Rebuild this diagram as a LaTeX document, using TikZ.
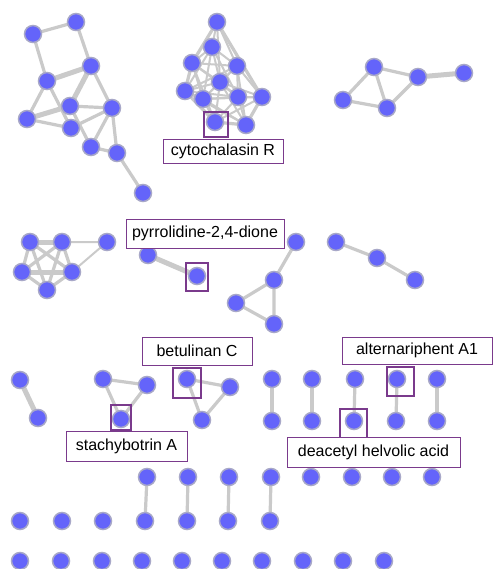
\documentclass[tikz,border=0pt]{standalone}
\usepackage{fontspec}
\setmainfont{Liberation Sans}
\definecolor{nodefill}{HTML}{6464FA}
\definecolor{noderim}{HTML}{A8A8C8}
\definecolor{edgegray}{HTML}{CACACA}
\definecolor{hlpurple}{HTML}{7A3A8C}
\tikzset{
  mol/.style={circle,fill=nodefill,draw=noderim,line width=1.5pt,minimum size=17pt,inner sep=0pt},
  link/.style={draw=edgegray,line width=3.2pt},
  thick link/.style={draw=edgegray,line width=5pt},
  thin link/.style={draw=edgegray,line width=2pt},
  hlbox/.style={draw=hlpurple,line width=1.8pt,fill=none},
  lbl/.style={draw=hlpurple,line width=0.9pt,fill=white,font=\fontsize{16}{18}\selectfont,inner xsep=3pt,inner ysep=4pt,anchor=center}
}
\begin{document}
\begin{tikzpicture}[x=1pt,y=-1pt]
\useasboundingbox (0,0) rectangle (493,569);
\fill[white] (0,0) rectangle (493,569);
% ---------- nodes ----------
\foreach \n/\x/\y in {A1/33/34,A2/76/22,A3/91/66,A4/47/81,A5/70/106,A6/112/108,A7/27/119,A8/71/128,A9/91/147,A10/117/153,A11/143/193,
 B1/217/22,B2/212/47,B3/192/63,B4/237/66,B5/220/82,B6/185/91,B7/203/99,B8/238/97,B9/262/97,B10/215/122,B11/246/125,
 C1/343/100,C2/374/67,C3/387/108,C4/418/77,C5/464/73,
 D1/30/242,D2/62/242,D3/107/242,D4/22/272,D5/72/272,D6/47/290,
 E1/148/255,E2/197/276,
 F1/296/242,F2/274/280,F3/236/303,F4/274/324,
 G1/336/242,G2/377/258,G3/415/280,
 H1/20/380,H2/38/418,
 I1/103/379,I2/147/385,I3/121/419,
 J1/187/379,J2/230/387,J3/202/420,
 K1/272/379,K2/312/379,K3/355/379,K4/397/379,K5/437/379,
 L1/272/421,L2/312/421,L3/354/421,L4/396/421,L5/437/421,
 M1/147/477,M2/188/477,M3/229/477,M4/271/477,M5/311/477,M6/352/477,M7/392/477,M8/432/477,
 N1/20/521,N2/62/521,N3/103/521,N4/145/521,N5/187/521,N6/228/521,N7/270/521,
 P1/20/561,P2/61/561,P3/102/561,P4/142/561,P5/182/561,P6/222/561,P7/262/561,P8/303/561,P9/343/561,P10/384/561}
  {\coordinate (\n) at (\x,\y);}
% ---------- edges ----------
\begin{scope}
% cluster A
\path[link] (A1) -- (A2) (A1) -- (A4) (A2) -- (A3) (A3) -- (A6) (A4) -- (A7)
  (A4) -- (A8) (A5) -- (A9) (A7) -- (A8) (A5) -- (A6) (A8) -- (A6) (A6) -- (A9)
  (A6) -- (A10) (A9) -- (A10) (A10) -- (A11);
\path[thick link] (A4) -- (A3) (A3) -- (A5) (A7) -- (A5);
% cluster B (dense)
\foreach \a/\b in {B1/B2,B1/B3,B1/B4,B1/B5,B1/B9,B2/B3,B2/B4,B2/B5,B2/B6,B2/B7,B2/B8,B3/B4,B3/B5,B3/B6,B3/B7,B3/B8,B3/B10,
  B4/B5,B4/B6,B4/B7,B4/B8,B4/B9,B4/B11,B5/B6,B5/B7,B5/B8,B5/B9,B5/B10,B5/B11,B6/B7,B6/B8,B6/B10,B6/B11,
  B7/B8,B7/B9,B7/B10,B7/B11,B8/B9,B8/B10,B8/B11,B9/B10,B9/B11,B10/B11}
  {\path[thin link] (\a) -- (\b);}
\path[link] (B1) -- (B3) (B1) -- (B9) (B6) -- (B10) (B9) -- (B11) (B10) -- (B11) (B3) -- (B6);
% cluster C
\path[link] (C1) -- (C2) (C1) -- (C3) (C2) -- (C3) (C2) -- (C4) (C3) -- (C4);
\path[thick link] (C4) -- (C5);
% cluster D
\path[link] (D1) -- (D4) (D1) -- (D5) (D1) -- (D6) (D2) -- (D4) (D2) -- (D6)
  (D4) -- (D6) (D5) -- (D6) (D2) -- (D5);
\path[thick link] (D1) -- (D2) (D4) -- (D5);
\path[thin link] (D2) -- (D3) (D3) -- (D5);
% others
\path[thick link] (E1) -- (E2);
\path[link] (F1) -- (F2) (F2) -- (F3) (F2) -- (F4) (F3) -- (F4);
\path[link] (G1) -- (G2) (G2) -- (G3);
\path[thick link] (H1) -- (H2);
\path[link] (I1) -- (I2) (I1) -- (I3) (I2) -- (I3);
\path[link] (J1) -- (J2) (J1) -- (J3) (J2) -- (J3);
\foreach \i in {1,...,5} {\path[link] (K\i) -- (L\i);}
\foreach \i in {1,...,4} {\path[link] (M\i) -- (N\the\numexpr\i+3\relax);}
\end{scope}
% ---------- node discs ----------
\foreach \n in {A1,A2,A3,A4,A5,A6,A7,A8,A9,A10,A11,B1,B2,B3,B4,B5,B6,B7,B8,B9,B10,B11,C1,C2,C3,C4,C5,
 D1,D2,D3,D4,D5,D6,E1,E2,F1,F2,F3,F4,G1,G2,G3,H1,H2,I1,I2,I3,J1,J2,J3,
 K1,K2,K3,K4,K5,L1,L2,L3,L4,L5,M1,M2,M3,M4,M5,M6,M7,M8,N1,N2,N3,N4,N5,N6,N7,
 P1,P2,P3,P4,P5,P6,P7,P8,P9,P10}
  {\node[mol] (n\n) at (\n) {};}
% ---------- highlight boxes ----------
\draw[hlbox] (204,112) rectangle (228,137);
\draw[hlbox] (186,263) rectangle (208,291);
\draw[hlbox] (111,405) rectangle (131,430);
\draw[hlbox] (173,368) rectangle (201,398);
\draw[hlbox] (387,367) rectangle (414,396);
\draw[hlbox] (340,409) rectangle (367,438);
% ---------- labels ----------
\node[lbl,minimum width=120pt,minimum height=24pt] (lcyto) at (223,151) {cytochalasin R};
\node[lbl,minimum width=158pt,minimum height=29pt] (lpyrr) at (205,233.5) {pyrrolidine-2,4-dione};
\node[lbl,minimum width=110pt,minimum height=28pt] (lbetu) at (197,351) {betulinan C};
\node[lbl,minimum width=121pt,minimum height=30pt] (lstac) at (126.5,446) {stachybotrin A};
\node[lbl,minimum width=150pt,minimum height=27pt] (lalte) at (417,350.5) {alternariphent A1};
\node[lbl,minimum width=173pt,minimum height=30pt] (ldeac) at (373.5,452) {deacetyl helvolic acid};
\end{tikzpicture}
\end{document}
